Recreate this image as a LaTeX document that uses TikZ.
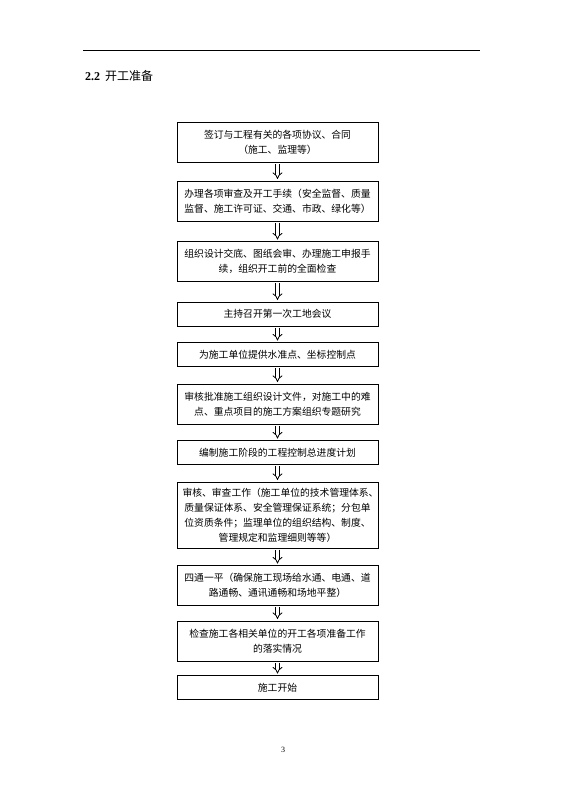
\documentclass[tikz,border=0pt]{standalone}
\usepackage{fontspec}
\setmainfont{Liberation Serif}
\newfontfamily\cjk{Noto Sans CJK SC}
\usepackage{tikz}
\usetikzlibrary{positioning}
\usetikzlibrary{arrows.meta}
\tikzset{
node distance = 16.8bp,
   box/.style = {%
    shape=rectangle,
    draw=black,
    line width=0.7bp,
    text width=190bp,
    minimum width=201bp,
    minimum height=24bp,
    inner sep=2bp,
    align=center,
    font=\cjk\fontsize{9.8bp}{15bp}\selectfont},
  tall/.style = {minimum height=40bp},
 arrow/.style = {%
    draw=black,
    double,
    double distance=2.6bp,
    line width=0.8bp,% <-- hollow shaft
    -{Implies[length=4.5bp, width=9bp]},
    shorten >=1.5bp, shorten <=1.5bp},
    }

\begin{document}
\begin{tikzpicture}[x=1bp,y=-1bp]
    \useasboundingbox (0,0) rectangle (565,799);
    \draw[line width=0.8bp] (83,50) -- (480,50);
    \node[anchor=west, inner sep=0pt, font=\fontsize{12bp}{14bp}\selectfont] (title) at (85,76)
        {\textbf{2.2}\hspace{5bp}{\cjk 开工准备}};

    \node[box, tall, anchor=north] (s1) at (277.5,122)
        {签订与工程有关的各项协议、合同\\（施工、监理等）};
    \node[box, tall, below=17.8bp of s1] (s2)
        {办理各项审查及开工手续（安全监督、质量\\监督、施工许可证、交通、市政、绿化等）};
    \node[box, tall, below=19.8bp of s2] (s3)
        {组织设计交底、图纸会审、办理施工申报手\\续，组织开工前的全面检查};
    \node[box, below=19.8bp of s3] (s4)
        {主持召开第一次工地会议};
    \node[box, below=15.8bp of s4] (s5)
        {为施工单位提供水准点、坐标控制点};
    \node[box, tall, below=of s5] (s6)
        {审核批准施工组织设计文件，对施工中的难\\点、重点项目的施工方案组织专题研究};
    \node[box, below=15.8bp of s6] (s7)
        {编制施工阶段的工程控制总进度计划};
    \node[box, minimum height=66bp, inner ysep=0pt, below=of s7] (s8)
        {审核、审查工作（施工单位的技术管理体系、\\质量保证体系、安全管理保证系统；分包单\\位资质条件；监理单位的组织结构、制度、\\管理规定和监理细则等等）};
    \node[box, tall, below=of s8] (s9)
        {四通一平（确保施工现场给水通、电通、道\\路通畅、通讯通畅和场地平整）};
    \node[box, tall, below=14.8bp of s9] (s10)
        {检查施工各相关单位的开工各项准备工作\\的落实情况};
    \node[box, below=13.8bp of s10] (s11)
        {施工开始};

    \foreach \a/\b in {s1/s2,s2/s3,s3/s4,s4/s5,s5/s6,s6/s7,s7/s8,s8/s9,s9/s10,s10/s11}
        \draw[arrow] (\a.south) -- (\b.north);

    \node[font=\fontsize{8bp}{10bp}\selectfont] (page) at (283,750) {3};
\end{tikzpicture}
\end{document}
